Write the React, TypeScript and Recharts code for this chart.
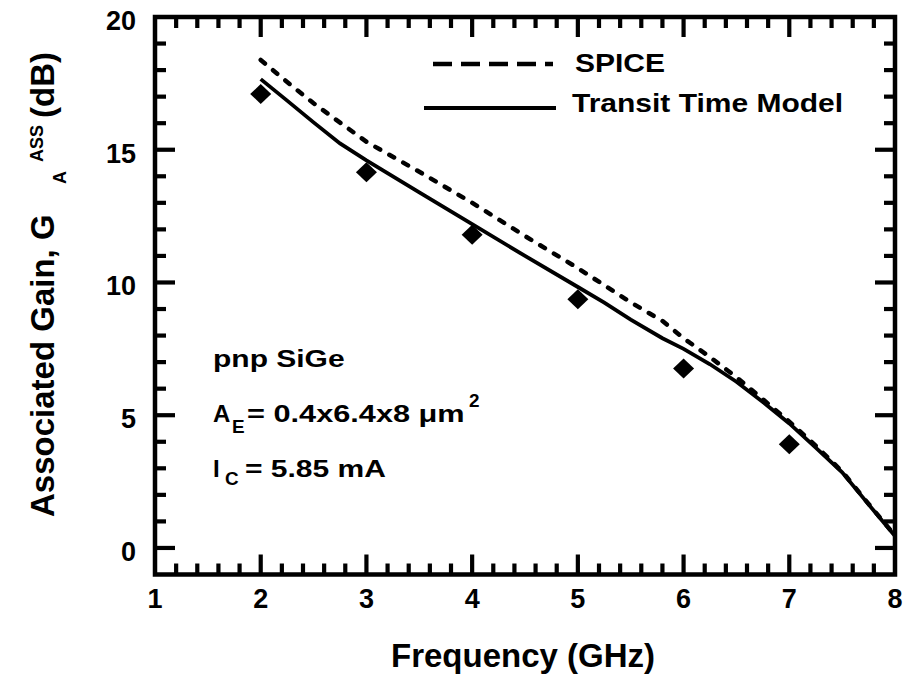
import React from "react";
import { ComposedChart, Line, Scatter, XAxis, YAxis, ReferenceArea } from "recharts";

// measured points (diamonds)
const measFreq = [2, 3, 4, 5, 6, 7];
const measGain = [17.1, 14.15, 11.8, 9.37, 6.76, 3.91];

// SPICE (dashed)
const spiceFreq = [2, 2.25, 2.5, 3, 3.5, 4, 4.5, 5, 5.5, 5.8, 6, 6.25, 6.5, 6.75, 7, 7.25, 7.5, 7.75, 8];
const spiceGain = [18.38, 17.55, 16.75, 15.3, 14.17, 13.0, 11.75, 10.54, 9.25, 8.55, 7.9, 7.19, 6.43, 5.6, 4.76, 3.85, 2.88, 1.66, 0.47];

// transit time model (solid)
const tttFreq = [2, 2.25, 2.5, 2.75, 3, 3.5, 4, 4.5, 5, 5.25, 5.5, 5.8, 6, 6.25, 6.5, 6.75, 7, 7.25, 7.5, 7.75, 8];
const tttGain = [17.66, 16.85, 16.03, 15.24, 14.6, 13.39, 12.2, 11.0, 9.83, 9.24, 8.6, 7.9, 7.5, 6.92, 6.26, 5.5, 4.69, 3.78, 2.85, 1.64, 0.45];

const xTicks = [
  1, 1.2, 1.4, 1.6, 1.8, 2, 2.2, 2.4, 2.6, 2.8, 3, 3.2, 3.4, 3.6, 3.8, 4, 4.2, 4.4, 4.6, 4.8,
  5, 5.2, 5.4, 5.6, 5.8, 6, 6.2, 6.4, 6.6, 6.8, 7, 7.2, 7.4, 7.6, 7.8, 8,
];
const yTicks = [-1, 0, 1, 2, 3, 4, 5, 6, 7, 8, 9, 10, 11, 12, 13, 14, 15, 16, 17, 18, 19, 20];
const xDomain = [1, 8];
const yDomain = [-1, 20];

const FONT = "'Liberation Sans', Arial, Helvetica, sans-serif";
const MAJOR = 20;
const MINOR = 11;
const TW = 4.2;

const isMajorX = (v: number) => Math.abs(v - Math.round(v)) < 1e-6;
const isMajorY = (v: number) => Math.abs(v / 5 - Math.round(v / 5)) < 1e-6;

const toPts = (xs: number[], ys: number[]) => xs.map((x, i) => ({ x, y: ys[i] }));
const measData = toPts(measFreq, measGain);
const spiceData = toPts(spiceFreq, spiceGain);
const tttData = toPts(tttFreq, tttGain);

function XTick(props: any) {
  const { x, y, payload, side } = props;
  const v = payload.value as number;
  const edge = v <= 1 || v >= 8;
  const len = isMajorX(v) ? MAJOR : MINOR;
  const dir = side === "bottom" ? -1 : 1;
  return (
    <g>
      {!edge && <line x1={x} x2={x} y1={y} y2={y + dir * len} stroke="#000" strokeWidth={TW} />}
      {side === "bottom" && isMajorX(v) && (
        <text x={x} y={y + 33} textAnchor="middle" fontFamily={FONT} fontWeight="bold" fontSize={27} fill="#000">
          {v}
        </text>
      )}
    </g>
  );
}

function YTick(props: any) {
  const { x, y, payload, side } = props;
  const v = payload.value as number;
  if (v <= -1) return null;
  const len = isMajorY(v) ? MAJOR : MINOR;
  const dir = side === "left" ? 1 : -1;
  return (
    <g>
      {v < 20 && <line x1={x} x2={x + dir * len} y1={y} y2={y} stroke="#000" strokeWidth={TW} />}
      {side === "left" && isMajorY(v) && (
        <text x={x - 19} y={y + 13} textAnchor="end" fontFamily={FONT} fontWeight="bold" fontSize={27} fill="#000">
          {v}
        </text>
      )}
    </g>
  );
}

function Diamond(props: any) {
  const { cx, cy } = props;
  const w = 10.5;
  const h = 10;
  return <polygon points={`${cx},${cy - h} ${cx + w},${cy} ${cx},${cy + h} ${cx - w},${cy}`} fill="#000" />;
}

function XTitle() {
  return (
    <text x={523} y={667} textAnchor="middle" fontFamily={FONT} fontWeight="bold" fontSize={33} fill="#000">
      Frequency (GHz)
    </text>
  );
}

function YTitle() {
  const t = (x: number, y: number, s: number, str: string) => (
    <text x={x} y={y} transform={`rotate(-90 ${x} ${y})`} fontFamily={FONT} fontWeight="bold" fontSize={s} fill="#000">
      {str}
    </text>
  );
  return (
    <g>
      {t(54, 517, 33, "Associated Gain, G")}
      {t(66, 184, 18, "A")}
      {t(43, 162, 18, "ASS")}
      {t(54, 118, 33, "(dB)")}
    </g>
  );
}

function Wide({ x, y, size, sx, children }: any) {
  return (
    <text transform={`translate(${x},${y}) scale(${sx},1)`} fontFamily={FONT} fontWeight="bold" fontSize={size} fill="#000">
      {children}
    </text>
  );
}

export default function App() {
  return (
    <div style={{ position: "absolute", left: 0, top: 0, width: 909, height: 675, background: "#fff" }}>
      <ComposedChart width={909} height={675} margin={{ top: 16, right: 13, bottom: 0, left: 0 }}>
        <XAxis
          xAxisId="b"
          type="number"
          dataKey="x"
          domain={xDomain}
          ticks={xTicks}
          interval={0}
          allowDataOverflow
          height={100.5}
          tickSize={0}
          tickMargin={0}
          tickLine={false}
          axisLine={false}
          tick={<XTick side="bottom" />}
          label={<XTitle />}
        />
        <XAxis
          xAxisId="t"
          orientation="top"
          type="number"
          dataKey="x"
          domain={xDomain}
          ticks={xTicks}
          interval={0}
          allowDataOverflow
          height={1}
          tickSize={0}
          tickMargin={0}
          tickLine={false}
          axisLine={false}
          tick={<XTick side="top" />}
        />
        <YAxis
          yAxisId="l"
          type="number"
          domain={yDomain}
          ticks={yTicks}
          interval={0}
          allowDataOverflow
          width={155}
          tickSize={0}
          tickMargin={0}
          tickLine={false}
          axisLine={false}
          tick={<YTick side="left" />}
          label={<YTitle />}
        />
        <YAxis
          yAxisId="r"
          orientation="right"
          type="number"
          domain={yDomain}
          ticks={yTicks}
          interval={0}
          allowDataOverflow
          width={1}
          tickSize={0}
          tickMargin={0}
          tickLine={false}
          axisLine={false}
          tick={<YTick side="right" />}
        />
        <ReferenceArea
          xAxisId="b"
          yAxisId="l"
          x1={xDomain[0]}
          x2={xDomain[1]}
          y1={yDomain[0]}
          y2={yDomain[1]}
          fill="none"
          fillOpacity={0}
          stroke="#000"
          strokeWidth={4.5}
          ifOverflow="visible"
        />
        <Line
          xAxisId="b"
          yAxisId="l"
          data={spiceData}
          dataKey="y"
          type="linear"
          stroke="#000"
          strokeWidth={4.5}
          strokeDasharray="5.5 10.5"
          strokeLinecap="round"
          dot={false}
          isAnimationActive={false}
        />
        <Line
          xAxisId="b"
          yAxisId="r"
          data={tttData}
          dataKey="y"
          type="linear"
          stroke="#000"
          strokeWidth={3.8}
          dot={false}
          isAnimationActive={false}
        />
        <Scatter
          xAxisId="t"
          yAxisId="l"
          data={measData}
          dataKey="y"
          fill="#000"
          shape={<Diamond />}
          isAnimationActive={false}
        />
      </ComposedChart>
      <svg width={909} height={675} style={{ position: "absolute", left: 0, top: 0, pointerEvents: "none" }}>
        {/* legend */}
        <line x1={433} x2={553} y1={64} y2={64} stroke="#000" strokeWidth={4.7} strokeDasharray="19 9" />
        <Wide x={575} y={72} size={25} sx={1.2}>SPICE</Wide>
        <line x1={424} x2={556} y1={108} y2={108} stroke="#000" strokeWidth={4} />
        <Wide x={572} y={112} size={25} sx={1.2}>Transit Time Model</Wide>
        {/* device annotation */}
        <Wide x={213} y={367} size={24} sx={1.25}>pnp SiGe</Wide>
        <Wide x={213} y={422} size={24} sx={1.0}>A</Wide>
        <Wide x={232} y={433} size={18} sx={1.05}>E</Wide>
        <Wide x={247} y={422} size={24} sx={1.28}>= 0.4x6.4x8 μm</Wide>
        <Wide x={469} y={407} size={18} sx={1.05}>2</Wide>
        <Wide x={213} y={477} size={24} sx={1.0}>I</Wide>
        <Wide x={225} y={485} size={18} sx={1.05}>C</Wide>
        <Wide x={245} y={477} size={24} sx={1.25}>= 5.85 mA</Wide>
      </svg>
    </div>
  );
}
